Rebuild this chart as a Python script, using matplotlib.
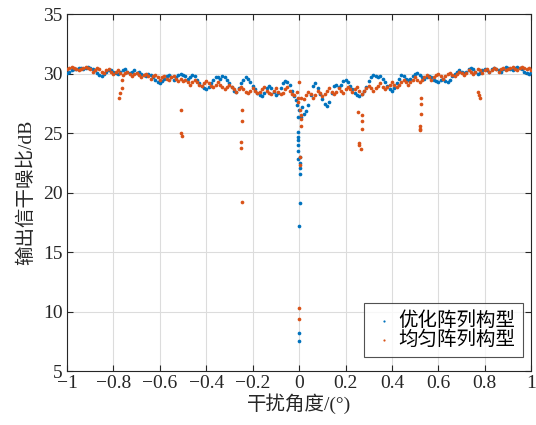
import numpy as np
import matplotlib
matplotlib.use("Agg")
import matplotlib.pyplot as plt

# angle grid (deg)
x_grid = np.round(np.linspace(-1.0, 1.0, 201), 3)

# optimized array baseline (blue)
sinr_opt = [
    30.1, 30.2, 30.3, 30.4, 30.4, 30.5, 30.5, 30.4, 30.5, 30.6,
    30.5, 30.4, 30.3, 30.1, 29.9, 29.8, 30.0, 30.2, 30.3, 30.3,
    30.2, 30.1, 30.0, 30.2, 30.3, 30.4, 30.2, 30.1, 30.2, 30.3,
    30.1, 30.2, 30.0, 29.9, 29.8, 30.0, 29.9, 29.7, 29.5, 29.3,
    29.2, 29.4, 29.6, 29.8, 29.9, 29.7, 29.5, 29.7, 29.9, 30.0,
    29.9, 29.8, 29.6, 29.7, 29.9, 29.8, 29.5, 29.2, 29.0, 28.8,
    28.7, 28.9, 29.2, 29.5, 29.7, 29.7, 29.6, 29.8, 29.7, 29.5,
    29.2, 28.9, 28.6, 28.5, 28.8, 29.2, 29.5, 29.7, 29.6, 29.3,
    29.0, 28.7, 28.4, 28.2, 28.1, 28.4, 28.8, 29.0, 28.8, 28.5,
    28.2, 28.4, 28.8, 29.2, 29.4, 29.3, 29.1, 28.6, 28.1, 27.4,
    27.0,
    26.4, 26.6, 26.9, 27.4, 28.2, 29.0, 29.2, 28.8, 28.3, 27.9,
    27.5, 27.3, 27.6, 28.4, 29.0, 29.1, 28.9, 29.1, 29.4, 29.5,
    29.3, 29.0, 28.7, 28.4, 28.2, 28.1, 28.3, 28.6, 28.9, 29.4,
    29.7, 29.9, 29.8, 29.7, 29.8, 29.6, 29.3, 29.0, 28.7, 28.6,
    28.8, 29.2, 29.6, 29.9, 29.8, 29.6, 29.5, 29.6, 29.8, 30.0,
    30.1, 29.9, 29.7, 29.6, 29.7, 29.8, 29.7, 29.5, 29.4, 29.3,
    29.5, 29.6, 29.4, 29.3, 29.5, 29.8, 30.0, 30.2, 30.3, 30.2,
    30.1, 30.2, 30.4, 30.5, 30.4, 30.2, 30.0, 30.1, 30.3, 30.4,
    30.3, 30.2, 30.4, 30.5, 30.4, 30.3, 30.2, 30.4, 30.6, 30.5,
    30.4, 30.3, 30.5, 30.6, 30.5, 30.4, 30.2, 30.1, 30.0, 30.2,
]

# uniform array baseline (orange)
sinr_uni = [
    30.4, 30.5, 30.6, 30.5, 30.4, 30.3, 30.4, 30.5, 30.6, 30.5,
    30.4, 30.2, 30.3, 30.5, 30.4, 30.2, 30.1, 30.3, 30.4, 30.2,
    30.0, 30.2, 30.3, 30.1, 29.9, 30.1, 30.2, 30.0, 29.8, 30.0,
    30.1, 29.9, 29.7, 29.9, 30.0, 29.8, 29.6, 29.8, 29.9, 29.7,
    29.5, 29.7, 29.8, 29.6, 29.5, 29.7, 29.8, 29.6, 29.4, 29.6,
    29.4, 29.5, 29.3, 29.1, 29.3, 29.5, 29.3, 29.1, 29.0, 29.2,
    29.4, 29.2, 29.0, 28.9, 29.1, 29.3, 29.1, 28.9, 28.7, 28.9,
    29.1, 28.9, 28.7, 28.5, 28.7, 28.9, 28.7, 28.5, 28.4, 28.6,
    28.8, 28.6, 28.4, 28.5, 28.7, 28.9, 28.6, 28.4, 28.3, 28.6,
    28.8, 28.5, 28.3, 28.4, 28.7, 28.9, 28.6, 28.3, 28.2, 28.5,
    29.3,
    28.0, 27.9, 28.2, 28.5, 28.3, 28.0, 28.2, 28.6, 28.4, 28.1,
    28.3, 28.6, 28.8, 28.5, 28.3, 28.5, 28.8, 28.6, 28.4, 28.7,
    28.9, 28.7, 28.5, 28.7, 28.9, 28.6, 28.3, 28.6, 28.8, 29.0,
    28.8, 28.6, 28.8, 29.0, 29.2, 28.9, 28.7, 28.9, 29.1, 29.3,
    29.1, 28.9, 29.1, 29.3, 29.5, 29.3, 29.1, 29.3, 29.5, 29.7,
    29.5, 29.3, 29.5, 29.7, 29.9, 29.7, 29.5, 29.7, 29.9, 30.0,
    29.8, 29.6, 29.8, 30.0, 30.1, 29.9, 29.8, 30.0, 30.2, 30.1,
    29.9, 30.1, 30.3, 30.2, 30.0, 30.2, 30.4, 30.3, 30.1, 30.3,
    30.4, 30.2, 30.3, 30.5, 30.4, 30.2, 30.4, 30.5, 30.3, 30.4,
    30.5, 30.6, 30.4, 30.3, 30.5, 30.6, 30.5, 30.4, 30.5, 30.3,
]

# extra samples in the notches
opt_dip_x = [-0.006, -0.005, -0.005, -0.004, -0.004, -0.003, -0.003,
             0.004, 0.005, 0.005, 0.006, 0.006, -0.002, 0.0, 0.0, -0.012, 0.012]
opt_dip_y = [26.4, 25.1, 24.7, 24.4, 24.0, 23.5, 22.8,
             23.0, 22.5, 22.1, 21.6, 19.1, 17.2, 8.2, 7.5, 27.8, 27.2]

uni_dip_x = [-0.765, -0.765, -0.77, -0.775,
             -0.51, -0.51, -0.505,
             -0.245, -0.245, -0.25, -0.25, -0.245,
             -0.005, -0.005, 0.0, 0.0, 0.006, 0.007, 0.007, 0.008, 0.006, 0.004,
             0.255, 0.27, 0.27, 0.27, 0.26, 0.26, 0.265,
             0.527, 0.527, 0.527, 0.52, 0.52, 0.523,
             0.77, 0.775, 0.78]
uni_dip_y = [29.5, 28.8, 28.4, 28.0,
             27.0, 25.0, 24.8,
             27.0, 26.0, 24.3, 23.8, 19.2,
             28.0, 27.6, 10.3, 9.4, 27.0, 26.5, 26.2, 25.6, 23.0, 22.3,
             26.8, 26.5, 26.0, 25.4, 24.2, 24.0, 23.7,
             28.0, 27.5, 26.6, 25.6, 25.4, 25.3,
             28.5, 28.2, 28.0]

x_ticks = [-1, -0.8, -0.6, -0.4, -0.2, 0, 0.2, 0.4, 0.6, 0.8, 1]
x_tick_labels = ["\u22121", "\u22120.8", "\u22120.6", "\u22120.4", "\u22120.2",
                 "0", "0.2", "0.4", "0.6", "0.8", "1"]
y_ticks = [5, 10, 15, 20, 25, 30, 35]

label_opt = "优化阵列构型"
label_uni = "均匀阵列构型"
xlabel = "干扰角度/(°)"
ylabel = "输出信干噪比/dB"

blue = "#0072BD"
orange = "#D95319"
fam = ["Liberation Serif", "Noto Sans CJK SC"]
dark = "#262626"

fig = plt.figure(figsize=(5.36, 4.25), dpi=100)
ax = fig.add_axes([0.125, 0.127, 0.866, 0.839])

ax.scatter(list(x_grid) + opt_dip_x, sinr_opt + opt_dip_y, s=7, c=blue,
           linewidths=0, label=label_opt, zorder=3)
ax.scatter(list(x_grid) + uni_dip_x, sinr_uni + uni_dip_y, s=7, c=orange,
           linewidths=0, label=label_uni, zorder=3)

ax.set_xlim(-1, 1)
ax.set_ylim(5, 35)
ax.set_xticks(x_ticks)
ax.set_xticklabels(x_tick_labels)
ax.set_yticks(y_ticks)
for lab in ax.get_xticklabels() + ax.get_yticklabels():
    lab.set_family(fam)
    lab.set_fontsize(14)
    lab.set_color(dark)

ax.grid(True, color="#dcdcdc", linewidth=0.8, zorder=0)
ax.set_axisbelow(True)
ax.tick_params(direction="in", top=True, right=True, length=4, width=0.8,
               colors=dark, pad=3)
for sp in ax.spines.values():
    sp.set_color(dark)
    sp.set_linewidth(0.8)

ax.set_xlabel(xlabel, family=fam, fontsize=14, color=dark, labelpad=1,
              fontweight="light")
ax.set_ylabel(ylabel, family=fam, fontsize=14, color=dark, labelpad=6,
              fontweight="light")

leg = ax.legend(loc="lower right", bbox_to_anchor=(0.983, 0.039),
                prop={"family": fam, "size": 14, "weight": "light"},
                frameon=True, fancybox=False,
                edgecolor=dark, markerscale=0.6, handletextpad=0.1,
                handlelength=1.3, borderpad=0.4, labelspacing=0.05,
                borderaxespad=0)
leg.get_frame().set_linewidth(0.8)

fig.savefig("out.png", dpi=100)
